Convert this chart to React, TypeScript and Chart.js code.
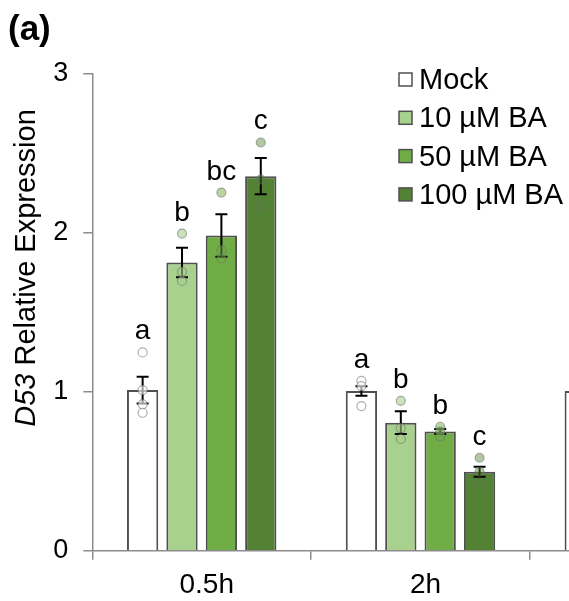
import React, { useEffect, useRef } from 'react';
import { Chart, registerables } from 'chart.js';
Chart.register(...registerables);

// ---- data ----
const categories = ['0.5h', '2h', ''];
const seriesNames = ['Mock', '10 µM BA', '50 µM BA', '100 µM BA'];
const seriesColors = ['#ffffff', '#a9d18e', '#70ad47', '#548235'];
const pointFills = ['rgba(255,255,255,0.6)', 'rgba(169,209,142,0.6)', 'rgba(112,173,71,0.5)', 'rgba(84,130,53,0.45)'];

const mockMeans = [1.011, 1.005, 1.005];
const ba10Means = [1.814, 0.806, null];
const ba50Means = [1.984, 0.75, null];
const ba100Means = [2.357, 0.497, null];

const mockErr = [0.084, 0.03, null];
const ba10Err = [0.093, 0.072, null];
const ba50Err = [0.134, 0.016, null];
const ba100Err = [0.114, 0.032, null];

const mockPoints = [[1.248, 1.011, 0.921, 0.868], [1.069, 1.036, 0.91], []];
const ba10Points = [[1.996, 1.755, 1.698], [0.943, 0.77, 0.703], []];
const ba50Points = [[2.254, 1.891, 1.839], [0.78, 0.75, 0.72], []];
const ba100Points = [[2.569, 2.336, 2.164], [0.585, 0.497, 0.419], []];

const mockLetters = ['a', 'a', ''];
const ba10Letters = ['b', 'b', ''];
const ba50Letters = ['bc', 'b', ''];
const ba100Letters = ['c', 'c', ''];

const yMin = 0;
const yMax = 3;
const yStep = 1;

const panelLabel = '(a)';
const yTitleItalic = 'D53';
const yTitleRest = ' Relative Expression';

const means = [mockMeans, ba10Means, ba50Means, ba100Means];
const errs = [mockErr, ba10Err, ba50Err, ba100Err];
const points = [mockPoints, ba10Points, ba50Points, ba100Points];
const letters = [mockLetters, ba10Letters, ba50Letters, ba100Letters];

const FONT = '"Liberation Sans", Arial, sans-serif';
const AXIS_GRAY = '#8c8c8c';
const BAR_BORDER = '#505050';

const overlayPlugin = {
  id: 'overlay',
  afterDatasetsDraw(chart: any) {
    const ctx = chart.ctx;
    const y = chart.scales.y;
    ctx.save();
    for (let d = 0; d < means.length; d++) {
      const meta = chart.getDatasetMeta(d);
      meta.data.forEach((bar: any, j: number) => {
        const m = means[d][j];
        if (m === null || m === undefined) return;
        const x = bar.x;
        const e = errs[d][j];
        let topPx = y.getPixelForValue(m);
        if (e !== null && e !== undefined) {
          const yt = y.getPixelForValue(m + e);
          const yb = y.getPixelForValue(m - e);
          ctx.strokeStyle = '#000';
          ctx.lineWidth = 2;
          ctx.beginPath();
          ctx.moveTo(x, yt); ctx.lineTo(x, yb);
          ctx.moveTo(x - 6, yt); ctx.lineTo(x + 6, yt);
          ctx.moveTo(x - 6, yb); ctx.lineTo(x + 6, yb);
          ctx.stroke();
          topPx = Math.min(topPx, yt);
        }
        const pts = points[d][j] || [];
        pts.forEach((v: number) => {
          const py = y.getPixelForValue(v);
          ctx.beginPath();
          ctx.arc(x, py, 4.5, 0, Math.PI * 2);
          ctx.fillStyle = pointFills[d];
          ctx.fill();
          ctx.lineWidth = 1.2;
          ctx.strokeStyle = 'rgba(110,110,110,0.55)';
          ctx.stroke();
          topPx = Math.min(topPx, py - 4.5);
        });
        const L = letters[d][j];
        if (L) {
          ctx.fillStyle = '#000';
          ctx.font = `28px ${FONT}`;
          ctx.textAlign = 'center';
          ctx.textBaseline = 'alphabetic';
          ctx.fillText(L, x, topPx - 8.5);
        }
      });
    }
    ctx.restore();
  },
  afterDraw(chart: any) {
    const ctx = chart.ctx;
    ctx.save();
    ctx.fillStyle = '#000';
    ctx.font = `bold 35px ${FONT}`;
    ctx.textAlign = 'left';
    ctx.textBaseline = 'alphabetic';
    ctx.fillText(panelLabel, 8, 39.5);

    ctx.save();
    ctx.font = `italic 29px ${FONT}`;
    const w1 = ctx.measureText(yTitleItalic).width;
    ctx.font = `29px ${FONT}`;
    const w2 = ctx.measureText(yTitleRest).width;
    const total = w1 + w2;
    ctx.translate(35, 268);
    ctx.rotate(-Math.PI / 2);
    ctx.font = `italic 29px ${FONT}`;
    ctx.fillText(yTitleItalic, -total / 2, 0);
    ctx.font = `29px ${FONT}`;
    ctx.fillText(yTitleRest, -total / 2 + w1, 0);
    ctx.restore();

    const boxX = 399;
    const textX = 419;
    const row0 = 79;
    const rowGap = 38.3;
    ctx.font = `29px ${FONT}`;
    ctx.textAlign = 'left';
    ctx.textBaseline = 'alphabetic';
    seriesNames.forEach((name, i) => {
      const cy = row0 + i * rowGap;
      ctx.fillStyle = seriesColors[i];
      ctx.fillRect(boxX, cy - 6, 13, 13);
      ctx.strokeStyle = BAR_BORDER;
      ctx.lineWidth = 1.5;
      ctx.strokeRect(boxX, cy - 6, 13, 13);
      ctx.fillStyle = '#000';
      ctx.fillText(name, textX, cy + 10);
    });
    ctx.restore();
  },
};

export default function App() {
  const ref = useRef<HTMLCanvasElement | null>(null);
  useEffect(() => {
    if (!ref.current) return;
    const chart = new Chart(ref.current, {
      type: 'bar',
      data: {
        labels: categories,
        datasets: seriesNames.map((name, i) => ({
          label: name,
          data: means[i],
          backgroundColor: seriesColors[i],
          borderColor: BAR_BORDER,
          borderWidth: 2,
          categoryPercentage: 0.72,
          barPercentage: 0.795,
        })),
      },
      options: {
        animation: false,
        responsive: true,
        maintainAspectRatio: false,
        layout: { padding: { top: 74, right: 31.3, bottom: 0, left: 0 } },
        plugins: { legend: { display: false }, tooltip: { enabled: false }, title: { display: false } },
        scales: {
          x: {
            grid: { drawOnChartArea: false, drawTicks: true, tickLength: 9, color: AXIS_GRAY, lineWidth: 1.5, offset: true },
            border: { color: AXIS_GRAY, width: 1.5 },
            ticks: { color: '#000', font: { family: FONT, size: 28 }, padding: 9, maxRotation: 0, labelOffset: 5 },
            afterFit: (s: any) => { s.height = 50.3; },
          },
          y: {
            min: yMin,
            max: yMax,
            ticks: { stepSize: yStep, color: '#000', font: { family: FONT, size: 27 }, padding: 15 },
            grid: { drawOnChartArea: false, drawTicks: true, tickLength: 9, color: AXIS_GRAY, lineWidth: 1.5 },
            border: { color: AXIS_GRAY, width: 1.5 },
            afterFit: (s: any) => { s.width = 92.3; },
          },
        },
      },
      plugins: [overlayPlugin],
    });
    return () => chart.destroy();
  }, []);

  return (
    <div style={{ position: 'fixed', left: 0, top: 0, width: 569, height: 601, overflow: 'hidden', background: '#fff' }}>
      <div style={{ position: 'relative', width: 780, height: 601 }}>
        <canvas ref={ref} />
      </div>
    </div>
  );
}
